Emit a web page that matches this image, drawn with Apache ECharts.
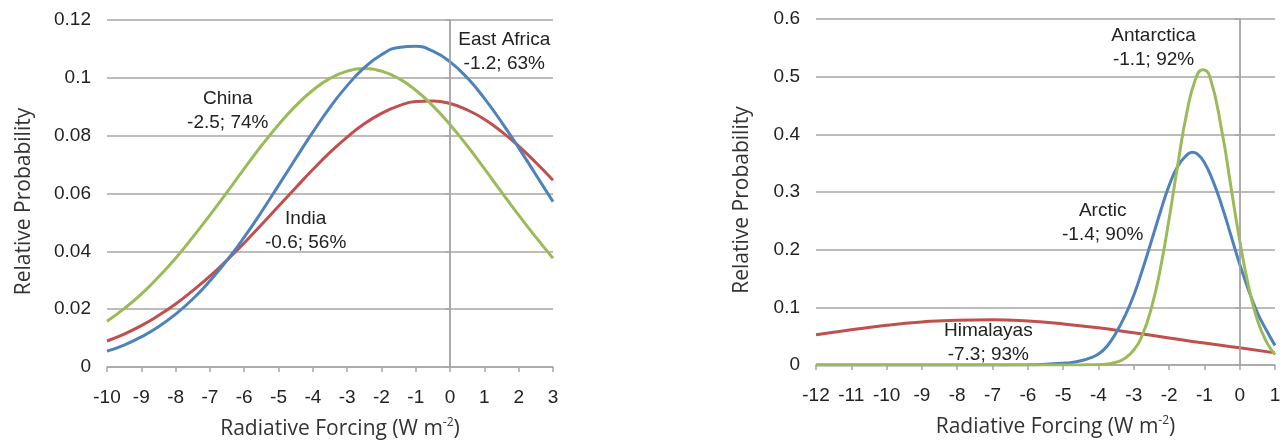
<!DOCTYPE html>
<html>
<head>
<meta charset="utf-8">
<script src="https://cdn.jsdelivr.net/npm/echarts@6/dist/echarts.min.js"></script>
<style>
html, body { margin: 0; padding: 0; background: #fff; }
#chart { width: 1283px; height: 443px; }
</style>
</head>
<body>
<div id="chart"></div>
<script>
// left panel: East Africa / India / China (x step 0.5)
var leftX = [-10, -9.5, -9, -8.5, -8, -7.5, -7, -6.5, -6, -5.5, -5, -4.5, -4, -3.5, -3,
    -2.5, -2, -1.5, -1, -0.5, 0, 0.5, 1, 1.5, 2, 2.5, 3];
var eastAfrica = [0.0055, 0.0076, 0.0104, 0.0139, 0.0183, 0.0235, 0.0298, 0.0369, 0.0449, 0.0536,
    0.0628, 0.0721, 0.0812, 0.0898, 0.0973, 0.1035, 0.108, 0.1105, 0.1109, 0.1092,
    0.1055, 0.1, 0.0929, 0.0847, 0.0758, 0.0665, 0.0572];
var india = [0.009, 0.0114, 0.0143, 0.0178, 0.0218, 0.0264, 0.0314, 0.037, 0.0429, 0.0492,
    0.0556, 0.062, 0.0683, 0.0742, 0.0795, 0.0841, 0.0877, 0.0903, 0.0918, 0.092,
    0.0911, 0.0889, 0.0857, 0.0814, 0.0764, 0.0707, 0.0646];
var china = [0.0158, 0.0202, 0.0252, 0.0311, 0.0376, 0.0449, 0.0525, 0.0605, 0.0686, 0.0765,
    0.0838, 0.0903, 0.0957, 0.0998, 0.1023, 0.1032, 0.1023, 0.0998, 0.0957, 0.0903,
    0.0838, 0.0765, 0.0686, 0.0605, 0.0525, 0.0449, 0.0376];

// right panel: Arctic / Antarctica / Himalayas
var himalayaX = [-12, -11, -10, -9, -8, -7, -6, -5, -4, -3, -2, -1, 0, 1];
var himalayas = [0.0525, 0.061, 0.0688, 0.0745, 0.0778, 0.0784, 0.0761, 0.0712, 0.0644, 0.0559,
    0.047, 0.038, 0.0298, 0.021];
var arcticX = [-12, -10, -8, -7, -6, -5.5, -5, -4.75, -4.5, -4.25, -4, -3.75, -3.5, -3.25, -3,
    -2.75, -2.5, -2.25, -2, -1.75, -1.5, -1.35, -1.2, -1, -0.75, -0.5, -0.25, 0, 0.25, 0.5, 0.75, 1];
var arctic = [0, 0, 0, 0, 0.0003, 0.0012, 0.003, 0.0045, 0.0075, 0.012, 0.019, 0.033, 0.056, 0.085, 0.121,
    0.166, 0.215, 0.265, 0.311, 0.345, 0.364, 0.369, 0.366, 0.351, 0.318, 0.275, 0.225, 0.175, 0.13, 0.091, 0.061, 0.034];
var antarcticaX = [-12, -10, -8, -6, -5, -4.5, -4, -3.75, -3.5, -3.25, -3, -2.75, -2.5, -2.25, -2,
    -1.75, -1.5, -1.25, -1.05, -0.85, -0.5, -0.25, 0, 0.25, 0.5, 0.75, 1];
var antarctica = [0, 0, 0, 0, 0, 0.0002, 0.0006, 0.0017, 0.0047, 0.0117, 0.026, 0.053, 0.099, 0.166, 0.253,
    0.349, 0.437, 0.496, 0.512, 0.501, 0.404, 0.31, 0.216, 0.137, 0.078, 0.041, 0.018];

var labelsLeft = ['East Africa\n-1.2; 63%', 'India\n-0.6; 56%', 'China\n-2.5; 74%'];
var labelsRight = ['Arctic\n-1.4; 90%', 'Antarctica\n-1.1; 92%', 'Himalayas\n-7.3; 93%'];

var blue = '#4F81BD', red = '#C0504D', green = '#9BBB59';
var gridColor = '#A6A6A6';
var textColor = '#222';
var tickFont = 'Liberation Sans, Arial, sans-serif';
var titleFont = 'Open Sans, sans-serif';

function pairs(xs, ys) {
    return xs.map(function (x, i) { return [x, ys[i]]; });
}

function xAxisCfg(idx, min, max) {
    return {
        gridIndex: idx, type: 'value', min: min, max: max, interval: 1,
        name: 'Radiative Forcing (W m{sup|-2})',
        nameLocation: 'middle', nameGap: 50,
        nameTextStyle: {
            fontFamily: titleFont, fontSize: 21, color: '#333', lineHeight: 24,
            padding: [0, 0, 0, 20],
            rich: { sup: { fontFamily: titleFont, fontSize: 12, lineHeight: 12, verticalAlign: 'top', color: '#333' } }
        },
        axisLine: { show: true, onZero: false, lineStyle: { color: gridColor, width: 1.5 } },
        axisTick: { show: true, length: 5, lineStyle: { color: gridColor, width: 1.5 } },
        axisLabel: { margin: 21, fontFamily: tickFont, fontSize: 19, color: textColor },
        splitLine: { show: false }
    };
}

function yAxisCfg(idx, max, step, gap) {
    return {
        gridIndex: idx, type: 'value', min: 0, max: max, interval: step,
        name: 'Relative Probability', nameLocation: 'middle', nameGap: gap,
        nameTextStyle: { fontFamily: titleFont, fontSize: 21, color: '#333', padding: [0, 16, 0, 0] },
        axisLine: { show: true, lineStyle: { color: gridColor, width: 1.5 } },
        axisTick: { show: true, length: 5, lineStyle: { color: gridColor, width: 1.5 } },
        axisLabel: { margin: 16, fontFamily: tickFont, fontSize: 19, color: textColor },
        splitLine: { show: true, lineStyle: { color: gridColor, width: 1.5 } }
    };
}

function note(coord, text) {
    return { coord: coord, label: { formatter: text } };
}

function curve(idx, color, xs, ys, notes) {
    var s = {
        type: 'line', xAxisIndex: idx, yAxisIndex: idx,
        data: pairs(xs, ys), smooth: true, showSymbol: false, z: 3,
        lineStyle: { color: color, width: 3 }, itemStyle: { color: color }
    };
    if (notes) {
        s.markPoint = {
            symbol: 'circle', symbolSize: 1, silent: true,
            itemStyle: { color: 'rgba(0,0,0,0)' },
            label: { show: true, position: 'inside', fontFamily: tickFont, fontSize: 19, lineHeight: 24, color: textColor },
            data: notes
        };
    }
    return s;
}

var zeroLine = {
    silent: true, symbol: 'none', label: { show: false },
    lineStyle: { color: gridColor, width: 1.5, type: 'solid' },
    data: [{ xAxis: 0 }]
};

var myChart = echarts.init(document.getElementById('chart'));
var option = {
    backgroundColor: '#fff',
    animation: false,
    grid: [
        { left: 107, top: 20, width: 446, height: 347, outerBoundsMode: 'none' },
        { left: 816, top: 19, width: 459, height: 346, outerBoundsMode: 'none' }
    ],
    xAxis: [xAxisCfg(0, -10, 3), xAxisCfg(1, -12, 1)],
    yAxis: [yAxisCfg(0, 0.12, 0.02, 72), yAxisCfg(1, 0.6, 0.1, 63)],
    series: [
        curve(0, red, leftX, india, [note([-4.21, 0.0472], labelsLeft[1])]),
        curve(0, green, leftX, china, [note([-6.48, 0.0887], labelsLeft[2])]),
        curve(0, blue, leftX, eastAfrica, [note([1.58, 0.109], labelsLeft[0])]),
        curve(1, red, himalayaX, himalayas, [note([-7.12, 0.038], labelsRight[2])]),
        curve(1, blue, arcticX, arctic, [note([-3.88, 0.247], labelsRight[0])]),
        curve(1, green, antarcticaX, antarctica, [note([-2.44, 0.5505], labelsRight[1])])
    ]
};
option.series[0].markLine = zeroLine;
option.series[3].markLine = zeroLine;
myChart.setOption(option, true);
</script>
</body>
</html>
